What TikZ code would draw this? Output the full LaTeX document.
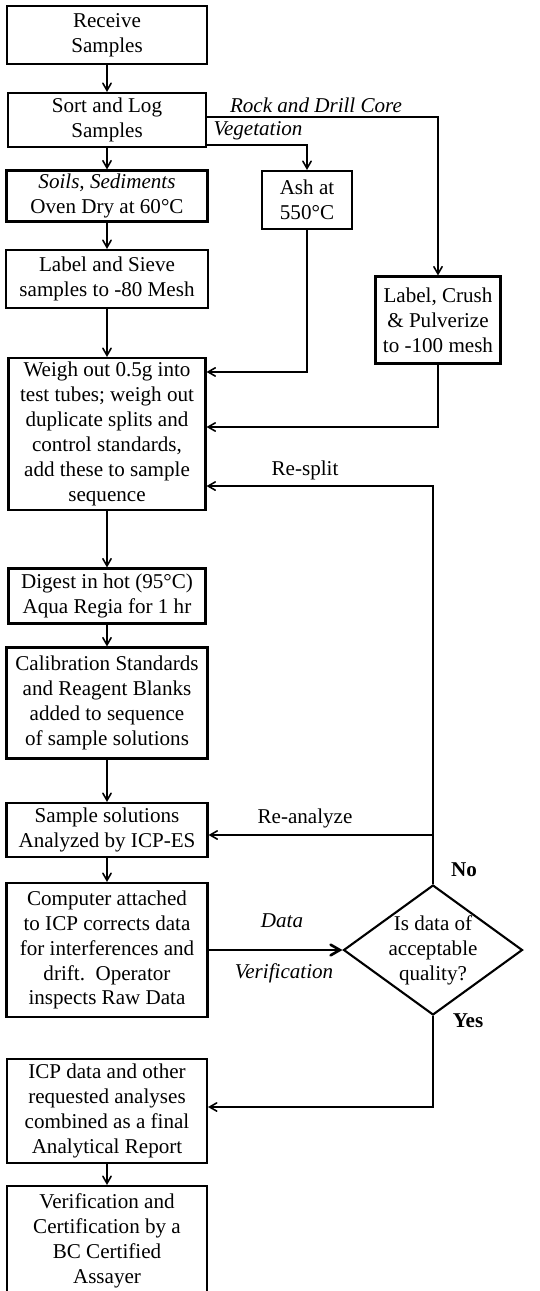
\documentclass[tikz,border=0pt]{standalone}
\usepackage{fontspec}
\setmainfont{Liberation Serif}
\usepackage{tikz}
\usetikzlibrary{arrows,shapes.geometric}

\begin{document}
\begin{tikzpicture}[x=0.02cm,y=-0.02cm,>=angle 60,line width=0.9pt,
  stepbox/.style={draw,line width=1.2pt,align=center,inner sep=1pt,
    font=\fontsize{12}{14.2}\selectfont},
  decide/.style={draw,diamond,line width=1.2pt,shape aspect=1.38,inner sep=-1pt,
    align=center,font=\fontsize{12}{14.2}\selectfont},
  lbl/.style={font=\fontsize{12}{14.2}\selectfont}]
\path[use as bounding box,clip] (0,0) rectangle (539,1291);
\node[stepbox,minimum width=4cm,minimum height=1.16cm] (recv) at (107,35) {Receive\\Samples};
\node[stepbox,minimum width=3.96cm,minimum height=1.08cm] (sort) at (107,120) {Sort and Log\\Samples};
\node[stepbox,minimum width=4.02cm,minimum height=1.02cm] (soil) at (107,196) {\textit{Soils, Sediments}\\Oven Dry at 60°C};
\node[stepbox,minimum width=1.8cm,minimum height=1.16cm] (ash) at (307,200) {Ash at\\550°C};
\node[stepbox,minimum width=4.04cm,minimum height=1.16cm] (sieve) at (107,279) {Label and Sieve\\samples to -80 Mesh};
\node[stepbox,minimum width=2.5cm,minimum height=1.74cm] (crush) at (438,320) {Label, Crush\\\& Pulverize\\to -100 mesh};
\node[stepbox,minimum width=3.94cm,minimum height=3.04cm] (weigh) at (107,434) {Weigh out 0.5g into\\test tubes; weigh out\\duplicate splits and\\control standards,\\add these to sample\\sequence};
\node[stepbox,minimum width=3.94cm,minimum height=1.1cm] (digest) at (107,596) {Digest in hot (95°C)\\Aqua Regia for 1 hr};
\node[stepbox,minimum width=4.02cm,minimum height=2.22cm] (calib) at (107,703) {Calibration Standards\\and Reagent Blanks\\added to sequence\\of sample solutions};
\node[stepbox,minimum width=4.02cm,minimum height=1.08cm] (solut) at (107,830) {Sample solutions\\Analyzed by ICP-ES};
\node[stepbox,minimum width=4.02cm,minimum height=2.68cm] (comp) at (107,950) {Computer attached\\to ICP corrects data\\for interferences and\\drift.\ \ Operator\\inspects Raw Data};
\node[decide,minimum width=3.58cm,minimum height=2.6cm] (qual) at (433,950) {Is data of\\acceptable\\quality?};
\node[stepbox,minimum width=4cm,minimum height=2.08cm] (report) at (107,1111) {ICP data and other\\requested analyses\\combined as a final\\Analytical Report};
\node[stepbox,minimum width=4cm,minimum height=2.2cm] (verif) at (107,1241) {Verification and\\Certification by a\\BC Certified\\Assayer};

\node[lbl] (rock) at (316,105) {\textit{Rock and Drill Core}};
\node[lbl] (veg) at (258,131) {\textit{Vegetation}};
\node[lbl] (resplit) at (305,470) {Re-split};
\node[lbl] (reanal) at (305,818) {Re-analyze};
\node[lbl] (no) at (464,870) {\textbf{No}};
\node[lbl] (yes) at (468,1021) {\textbf{Yes}};
\node[lbl] (data) at (282,921) {\textit{Data}};
\node[lbl] (verific) at (284,973) {\textit{Verification}};

\draw[->] (recv) -- (sort);
\draw[->] (sort) -- (soil);
\draw[->] (soil) -- (sieve);
\draw[->] (sieve) -- (weigh);
\draw[->] (weigh) -- (digest);
\draw[->] (digest) -- (calib);
\draw[->] (calib) -- (solut);
\draw[->] (solut) -- (comp);
\draw[->] (report) -- (verif);
\draw[->] ([yshift=0.06cm]sort.east) -| (crush.north);
\draw[->] ([yshift=0.06cm]sort.south east) -| (ash.north);
\draw[->] (ash.south) |- ([yshift=-0.3cm]weigh.north east);
\draw[->] (crush.south) |- ([yshift=0.14cm]weigh.east);
\draw[->] (qual.north) |- ([yshift=0.5cm]weigh.south east);
\draw[->] (qual.north) |- ([yshift=-0.1cm]solut.east);
\draw[->] (qual.south) |- ([yshift=0.08cm]report.east);
\draw[->,line width=1.5pt] (comp.east) -- (qual.west);
\end{tikzpicture}
\end{document}
